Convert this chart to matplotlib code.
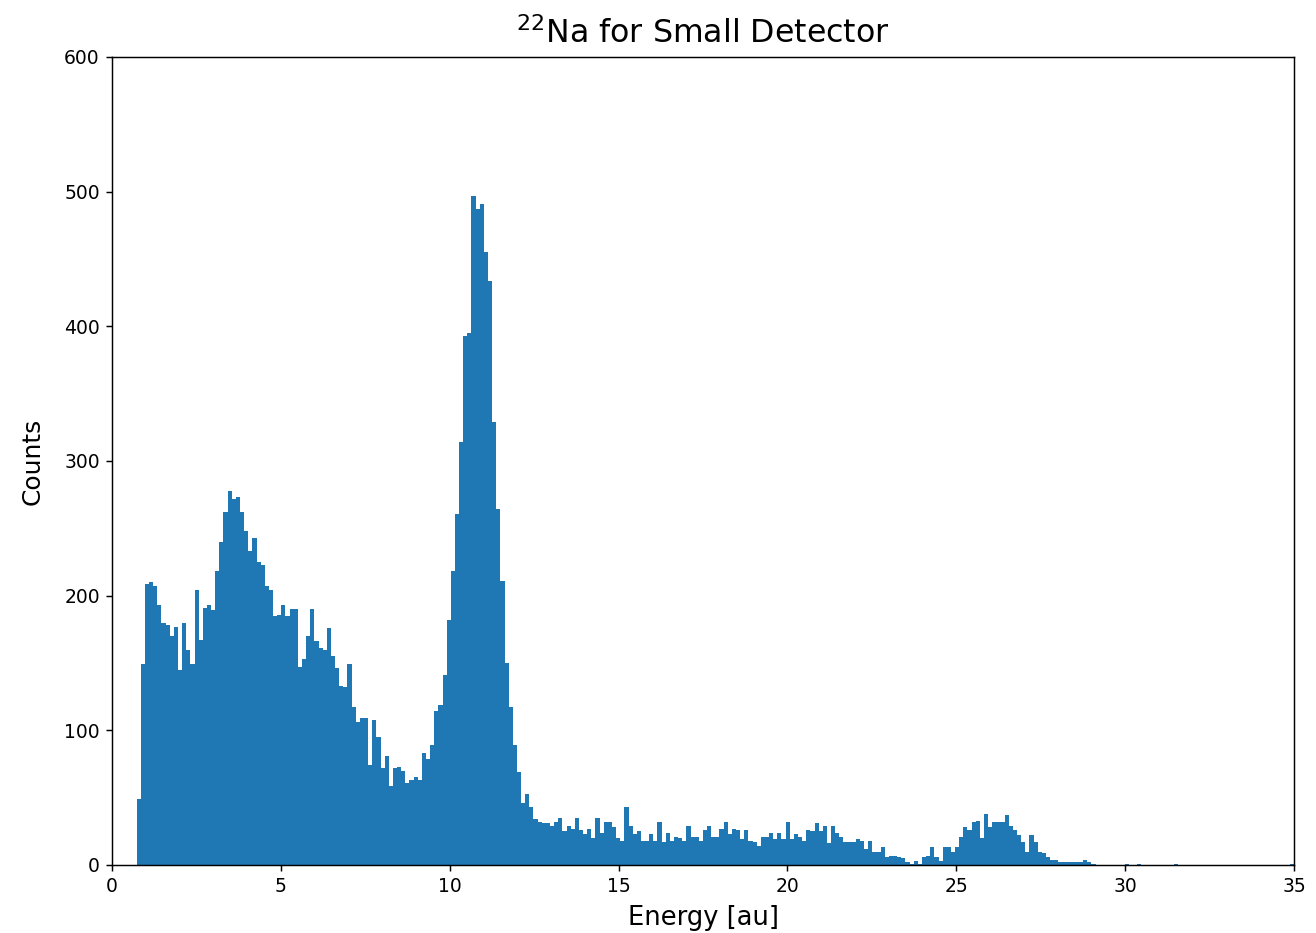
import numpy as np
from matplotlib import pyplot as plt

# bin edges of the histogram
e_min = 0.73
e_max = 35.0
n_bins = 280

# counts per bin
counts_low = [49, 149, 209, 210, 207, 193, 180, 178, 170, 177, 145, 180, 160, 149, 204, 167, 191, 193, 189, 218,
              240, 262, 278, 272, 273, 262, 248, 233, 243,
              225, 223, 207, 204, 185, 186, 193, 185, 190, 190, 147, 153, 170, 190, 166, 161, 160, 176, 155, 146,
              133, 132, 149, 117, 106, 109, 109,
              74, 108, 95, 72, 81, 59, 72, 73, 70, 61, 63, 65, 63]
counts_peak = [83, 79, 89, 114, 119, 141, 182, 218, 261, 314, 393, 395, 497, 487, 491, 455, 434, 329, 264, 211,
               150, 117, 89, 69, 46, 53, 43]
counts_flat = [34, 32, 31, 31, 29, 32, 35, 25, 29, 27, 35, 26, 23, 27, 20, 35, 24, 32, 32, 28, 20, 18, 43, 29, 23,
               25, 18, 18, 23, 18, 32,
               17, 24, 18, 21, 20, 18, 29, 21, 21, 18, 26, 29, 21, 21, 27, 32, 23, 27, 26, 19, 26, 18, 17, 14, 21,
               21, 24, 19, 24, 19, 32,
               19, 23, 21, 18, 26, 25, 31, 25, 29, 16, 29, 24, 21, 17, 17, 17, 19, 18, 12, 18, 10, 10, 13, 6, 7, 7,
               6, 5, 2]
counts_high = [1, 3, 1, 6, 7, 13, 6, 3, 13, 13, 10, 13, 21, 28, 26, 32, 33, 20, 38, 28, 32, 32, 32, 37, 29, 26, 22,
               17, 10, 22, 17, 10, 9,
               6, 4, 4, 2, 2, 2, 2, 2, 2, 4, 2, 1]
counts_tail = [0, 0, 0, 0, 0, 0, 0, 1, 0, 0, 1, 0, 0, 0, 0, 0, 0, 0, 0, 1,
               0, 0, 0, 0, 0, 0, 0, 0, 0, 0, 0, 0, 0, 0, 0, 0, 0, 0, 0, 0, 0, 0, 0, 0, 0, 0, 0, 1]

counts = np.array(counts_low + counts_peak + counts_flat + counts_high + counts_tail, dtype=float)
edges = np.linspace(e_min, e_max, n_bins + 1)

fig = plt.figure(figsize=(13.16, 9.33), dpi=100)
ax = fig.add_axes([112 / 1316, 1 - 865 / 933, (1294 - 112) / 1316, (865 - 57) / 933])

ax.hist(edges[:-1], bins=edges, weights=counts, color='#1f77b4')

ax.set_xlim(0, 35)
ax.set_ylim(0, 600)
ax.set_xlabel('Energy [au]', fontsize=18.5, labelpad=6)
ax.set_ylabel('Counts', fontsize=18, labelpad=14)
ax.set_title(r'$^{22}$Na for Small Detector', fontsize=22.8, pad=10)

ax.tick_params(labelsize=13.5, length=4.2, width=1.05, pad=4.6)
for s in ax.spines.values():
    s.set_linewidth(1.05)

plt.savefig('out.png', dpi=100)
